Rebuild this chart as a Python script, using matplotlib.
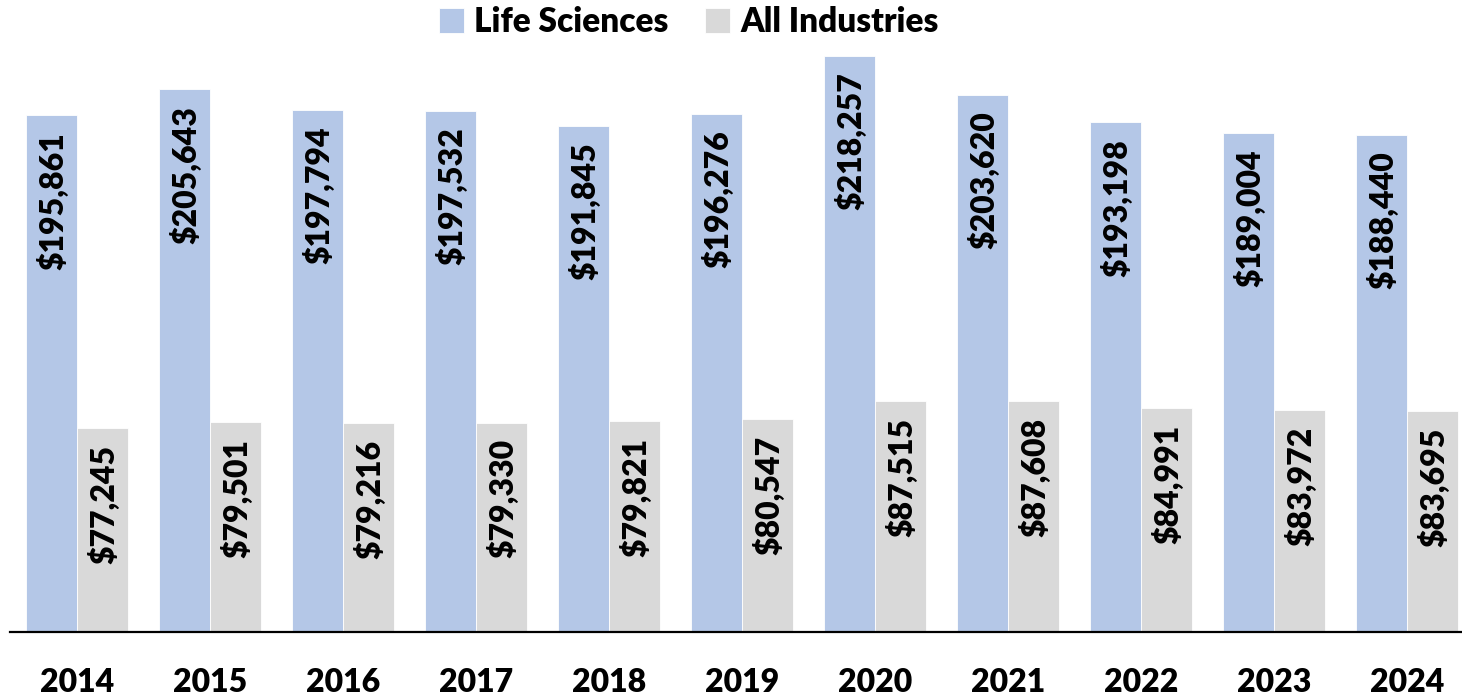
import matplotlib
matplotlib.use("Agg")
import matplotlib.pyplot as plt
import numpy as np

years = ["2014", "2015", "2016", "2017", "2018", "2019", "2020", "2021", "2022", "2023", "2024"]
life_sciences = [195861, 205643, 197794, 197532, 191845, 196276, 218257, 203620, 193198, 189004, 188440]
all_industries = [77245, 79501, 79216, 79330, 79821, 80547, 87515, 87608, 84991, 83972, 83695]
series_names = ["Life Sciences", "All Industries"]
colors = ["#B4C7E7", "#D9D9D9"]

plt.rcParams['font.family'] = ['Lato', 'DejaVu Sans']
plt.rcParams['font.weight'] = 'heavy'
WT = 'heavy'

W, H = 1462, 695
fig = plt.figure(figsize=(W / 100, H / 100), dpi=100)
ax = fig.add_axes([10 / W, (H - 632) / H, 1452 / W, 607 / H])

x = np.arange(len(years))
bw = 51 / 133
b1 = ax.bar(x - bw / 2, life_sciences, bw, color=colors[0], edgecolor='white', linewidth=0.6, label=series_names[0])
b2 = ax.bar(x + bw / 2, all_industries, bw, color=colors[1], edgecolor='white', linewidth=0.6, label=series_names[1])

for bars, vals in ((b1, life_sciences), (b2, all_industries)):
    for rect, v in zip(bars, vals):
        ax.annotate(f"${v:,}", (rect.get_x() + rect.get_width() / 2, v),
                    xytext=(1, -12), textcoords='offset points',
                    rotation=90, ha='center', va='top',
                    fontsize=23, fontweight=WT, color='black')

ax.set_xlim(-67 / 133, -67 / 133 + 1452 / 133)
ax.set_ylim(0, 230000)
ax.set_xticks(x)
ax.set_xticklabels(years, fontsize=23, fontweight=WT)
ax.tick_params(axis='x', length=0, pad=26)
ax.set_yticks([])
for s in ('top', 'right', 'left'):
    ax.spines[s].set_visible(False)
ax.spines['bottom'].set_linewidth(1.6)
ax.spines['bottom'].set_color('black')

fig.legend(handles=[b1, b2], labels=series_names, loc='upper center',
           bbox_to_anchor=(689 / W, 1.015), ncol=2, frameon=False,
           prop={'size': 24, 'weight': WT},
           handlelength=0.75, handleheight=0.75, handletextpad=0.3,
           columnspacing=1.1, borderaxespad=0.1)

fig.savefig("out.png", dpi=100)
